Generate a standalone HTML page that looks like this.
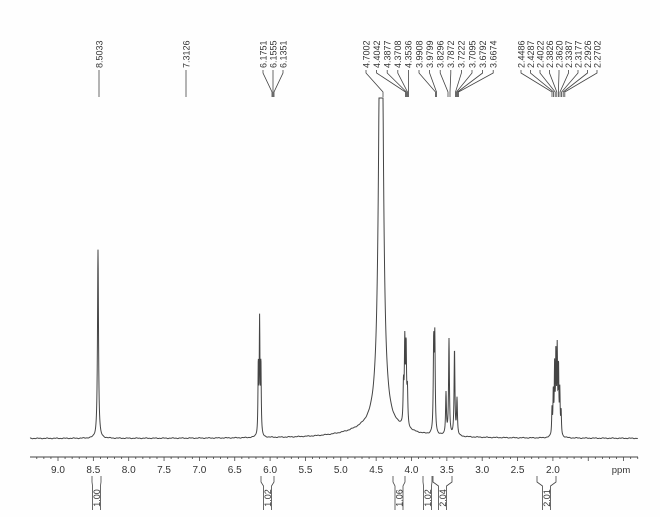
<!DOCTYPE html>
<html><head><meta charset="utf-8"><style>
html,body{margin:0;padding:0;background:#fff;}
svg{display:block;font-family:"Liberation Sans",sans-serif;}
</style></head><body>
<svg id="s" width="660" height="517" viewBox="0 0 660 517" xmlns="http://www.w3.org/2000/svg">
<rect width="660" height="517" fill="#fefefe"/>
<g id="g"></g>
</svg>
<script>
var NS="http://www.w3.org/2000/svg",g=document.getElementById('g');
function el(t,a,txt){var e=document.createElementNS(NS,t);for(var k in a)e.setAttribute(k,a[k]);if(txt!==undefined)e.textContent=txt;g.appendChild(e);return e;}
var base=437;
var peaks=[[98,189,0.6],
[258.3,70,0.4],[259.6,112,0.4],[260.9,70,0.4],
[381,700,1.94],[378,12,30],
[403.5,38,0.5],[404.8,80,0.5],[406.1,76,0.5],[407.4,34,0.5],
[433.7,88,0.5],[434.8,92,0.5],
[446,42,0.5],[449,96,0.5],[454.5,86,0.5],[457,36,0.5],
[552,26,0.4],[553.3,42,0.4],[554.6,66,0.4],[555.9,80,0.4],[557.2,82,0.4],[558.5,66,0.4],[559.8,42,0.4],[561.1,24,0.4]];
var d="";
for(var x=30;x<=638;x+=0.2){var h=0;for(var i=0;i<peaks.length;i++){var p=peaks[i],q=(x-p[0])/p[2];h+=p[1]/(1+q*q);}
h+=0.25*Math.sin(x*0.7)+0.2*Math.sin(x*1.9)-1.5;
var y=base-h;if(y<98)y=98;d+=(d?"L":"M")+x.toFixed(2)+" "+y.toFixed(2);}
el('path',{d:d,fill:'none',stroke:'#444','stroke-width':1});
el('line',{x1:30,y1:457,x2:638,y2:457,stroke:'#444','stroke-width':1});
function X(p){return 58+(9-p)*70.7;}
for(var k=0;k<=90;k++){var p=9.4-k*0.1;var xx=X(p);if(xx<30||xx>638)continue;var maj=Math.abs(p*2-Math.round(p*2))<0.01;
el('line',{x1:xx,y1:457,x2:xx,y2:maj?461:459,stroke:'#444','stroke-width':0.8});}
for(var p=9.0;p>=1.99;p-=0.5){el('text',{x:X(p),y:473,'font-size':10,'text-anchor':'middle',fill:'#333'},p.toFixed(1));}
el('text',{x:621,y:473,'font-size':9.5,'text-anchor':'middle',fill:'#333'},'ppm');
function lab(x,t){el('text',{x:0,y:0,transform:'translate('+(x+3.3)+',68) rotate(-90)','font-size':9,fill:'#333'},t);}
function fan(lx,tx){el('polyline',{points:lx+',70 '+lx+',73 '+tx+',92 '+tx+',97',fill:'none',stroke:'#444','stroke-width':0.8});}
lab(99,'8.5033');el('line',{x1:99,y1:70,x2:99,y2:97,stroke:'#444','stroke-width':0.8});
lab(186,'7.3126');el('line',{x1:186,y1:70,x2:186,y2:97,stroke:'#444','stroke-width':0.8});
var L6=['6.1751','6.1555','6.1351'];for(var i=0;i<3;i++){var lx=263+i*10;lab(lx,L6[i]);fan(lx,272+i);}
var L4=['4.7002','4.4042','4.3877','4.3708','4.3536','3.9908','3.9799','3.8296','3.7872','3.7222','3.7095','3.6792','3.6674'];
var T4=[383,405.5,406.5,407.5,408.5,435.5,436.5,448,450,455.5,456.5,457.5,458.5];
for(var i=0;i<13;i++){var lx=366+i*10.6;lab(lx,L4[i]);fan(lx,T4[i]);}
var L2=['2.4486','2.4287','2.4022','2.3826','2.3620','2.3387','2.3177','2.2926','2.2702'];
for(var i=0;i<9;i++){var lx=521+i*9.5;lab(lx,L2[i]);fan(lx,552+i*1.6);}
function integ(x1,x2,t){var c=(x1+x2)/2;
el('polyline',{points:x1+',476 '+x1+',482 '+(c-4)+',486 '+(c-4)+',510',fill:'none',stroke:'#444','stroke-width':0.8});
el('polyline',{points:x2+',476 '+x2+',482 '+(c+4)+',486 '+(c+4)+',510',fill:'none',stroke:'#444','stroke-width':0.8});
el('text',{x:0,y:0,transform:'translate('+(c+3.3)+',498) rotate(-90)','font-size':9,'text-anchor':'middle',fill:'#333'},t);}
integ(92,101,'1.00');integ(261,274,'1.02');integ(393,405,'1.06');integ(423,432,'1.02');integ(433,452,'2.04');integ(537,556,'2.01');
</script>
</body></html>
